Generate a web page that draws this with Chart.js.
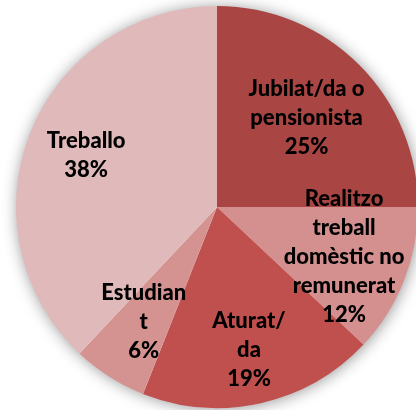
<!DOCTYPE html>
<html>
<head>
<meta charset="utf-8">
<script src="https://cdn.jsdelivr.net/npm/chart.js@4"></script>
<style>
    html, body { margin: 0; padding: 0; background: #ffffff; overflow: hidden; }
    .wrap { width: 420px; height: 410px; }
</style>
</head>
<body>
<div class="wrap"><canvas id="pieChart" width="420" height="410"></canvas></div>
<script>
const categories = ['Jubilat/da o pensionista', 'Realitzo treball domèstic no remunerat', 'Aturat/da', 'Estudiant', 'Treballo'];
const values = [25, 12, 19, 6, 38];
// wrapped the way the original chart breaks them
const labelLines = [
    ['Jubilat/da o', 'pensionista'],
    ['Realitzo', 'treball', 'domèstic no', 'remunerat'],
    ['Aturat/', 'da'],
    ['Estudian', 't'],
    ['Treballo']
];
const sliceColors = ['#a94644', '#d4908f', '#c0504d', '#d49391', '#e0baba'];

const radialPos = [0.63, 0.68, 0.73, 0.68, 0.70];

const pieShadow = {
    id: 'pieShadow',
    beforeDatasetsDraw(chart) {
        const arc = chart.getDatasetMeta(0).data[0];
        if (!arc) return;
        const { x, y, outerRadius } = arc.getProps(['x', 'y', 'outerRadius'], true);
        const ctx = chart.ctx;
        ctx.save();
        ctx.shadowColor = 'rgba(0,0,0,0.45)';
        ctx.shadowBlur = 16;
        ctx.shadowOffsetX = 1;
        ctx.shadowOffsetY = 1;
        ctx.beginPath();
        ctx.arc(x, y, outerRadius - 1, 0, Math.PI * 2);
        ctx.fillStyle = '#ffffff';
        ctx.fill();
        ctx.restore();
    }
};

const sliceLabels = {
    id: 'sliceLabels',
    afterDatasetsDraw(chart) {
        const ctx = chart.ctx;
        const total = values.reduce((a, b) => a + b, 0);
        const lineH = 29;
        ctx.save();
        ctx.font = '900 22px Lato, sans-serif';
        ctx.fillStyle = '#000000';
        ctx.textAlign = 'center';
        ctx.textBaseline = 'middle';
        chart.getDatasetMeta(0).data.forEach((arc, i) => {
            const p = arc.getProps(['x', 'y', 'startAngle', 'endAngle', 'outerRadius'], true);
            const mid = (p.startAngle + p.endAngle) / 2;
            const r = p.outerRadius * radialPos[i];
            const cx = p.x + Math.cos(mid) * r;
            const cy = p.y + Math.sin(mid) * r;
            const lines = labelLines[i].concat([Math.round(values[i] / total * 100) + '%']);
            const top = cy - (lines.length - 1) * lineH / 2;
            lines.forEach((t, j) => ctx.fillText(t, cx, top + j * lineH));
        });
        ctx.restore();
    }
};

new Chart(document.getElementById('pieChart'), {
    type: 'pie',
    data: {
        labels: categories,
        datasets: [{
            data: values,
            backgroundColor: sliceColors,
            borderWidth: 0
        }]
    },
    options: {
        responsive: false,
        animation: false,
        layout: { padding: { top: 6, bottom: 2, left: 16, right: 2 } },
        plugins: {
            legend: { display: false },
            tooltip: { enabled: false }
        }
    },
    plugins: [pieShadow, sliceLabels]
});
</script>
</body>
</html>
